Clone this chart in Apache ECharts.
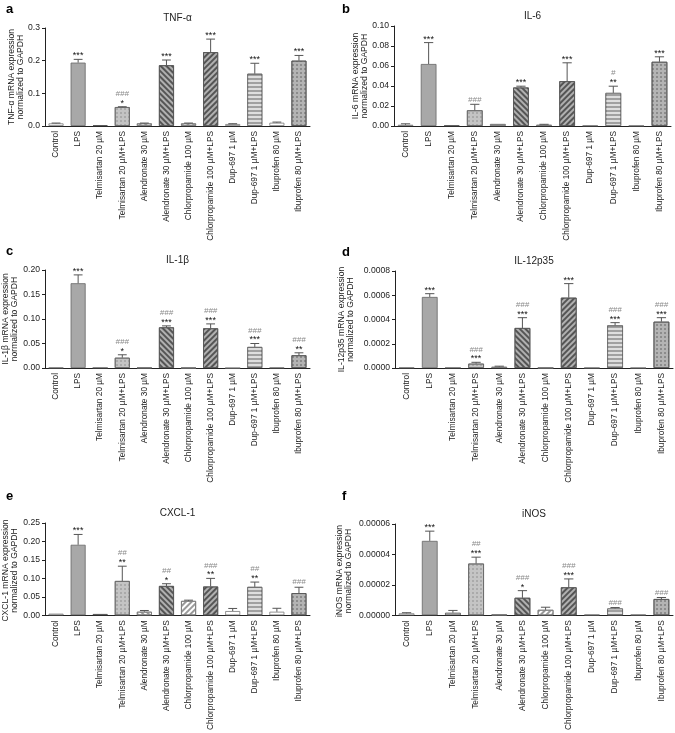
<!DOCTYPE html>
<html>
<head>
<meta charset="utf-8">
<script src="https://cdn.jsdelivr.net/npm/echarts@6/dist/echarts.min.js"></script>
<style>
  html, body { margin: 0; padding: 0; background: #fff; }
  #chart { width: 675px; height: 733px; }
</style>
</head>
<body>
<div id="chart"></div>
<script>
var groups = ['Control', 'LPS', 'Telmisartan 20 µM', 'Telmisartan 20 µM+LPS', 'Alendronate 30 µM',
  'Alendronate 30 µM+LPS', 'Chlorpropamide 100 µM', 'Chlorpropamide 100 µM+LPS', 'Dup-697 1 µM',
  'Dup-697 1 µM+LPS', 'Ibuprofen 80 µM', 'Ibuprofen 80 µM+LPS']

// a - TNF-alpha
var tnfMean = [0.008, 0.194, 0.002, 0.058, 0.008, 0.186, 0.008, 0.226, 0.006, 0.160, 0.010, 0.200]
var tnfErr = [0.001, 0.010, 0, 0.001, 0.001, 0.016, 0.001, 0.040, 0.001, 0.032, 0.002, 0.016]
var tnfStar = ['', '***', '', '*', '', '***', '', '***', '', '***', '', '***']
var tnfHash = ['', '', '', '###', '', '', '', '', '', '', '', '']

// b - IL-6
var il6Mean = [0.0012, 0.062, 0.0005, 0.0157, 0.002, 0.0385, 0.0012, 0.0448, 0.0006, 0.0331, 0.0005, 0.0642]
var il6Err = [0.001, 0.0214, 0, 0.006, 0, 0.0013, 0.0005, 0.0184, 0, 0.0067, 0, 0.005]
var il6Star = ['', '***', '', '', '', '***', '', '***', '', '**', '', '***']
var il6Hash = ['', '', '', '###', '', '', '', '', '', '#', '', '']

// c - IL-1beta
var il1bMean = [0.001, 0.173, 0, 0.021, 0.001, 0.083, 0.0005, 0.081, 0, 0.043, 0.001, 0.026]
var il1bErr = [0, 0.017, 0, 0.006, 0, 0.003, 0, 0.009, 0, 0.007, 0, 0.005]
var il1bStar = ['', '***', '', '*', '', '***', '', '***', '', '***', '', '**']
var il1bHash = ['', '', '', '###', '', '###', '', '###', '', '###', '', '###']

// d - IL-12p35
var il12Mean = [0.000005, 0.000586, 0, 0.000036, 0.00001, 0.00033, 0.000003, 0.00058, 0.000003, 0.000352, 0.000002, 0.000382]
var il12Err = [0, 0.000027, 0, 0.000011, 0.000005, 0.000085, 0, 0.000116, 0, 0.000022, 0, 0.000033]
var il12Star = ['', '***', '', '***', '', '***', '', '***', '', '***', '', '***']
var il12Hash = ['', '', '', '###', '', '###', '', '', '', '###', '', '###']

// e - CXCL-1
var cxclMean = [0.0044, 0.191, 0.0035, 0.093, 0.0097, 0.0795, 0.039, 0.078, 0.0115, 0.077, 0.0097, 0.060]
var cxclErr = [0, 0.028, 0, 0.040, 0.0033, 0.006, 0.002, 0.022, 0.007, 0.013, 0.0093, 0.016]
var cxclStar = ['', '***', '', '**', '', '*', '', '**', '', '**', '', '']
var cxclHash = ['', '', '', '##', '', '##', '', '###', '', '##', '', '###']

// f - iNOS
var inosMean = [0.0000013, 0.0000489, 0.0000017, 0.000034, 0.0000006, 0.0000115, 0.0000036, 0.0000184, 0.0000006, 0.0000045, 0.0000006, 0.0000107]
var inosErr = [0.0000004, 0.0000064, 0.0000015, 0.0000042, 0, 0.0000047, 0.0000017, 0.0000055, 0, 0.0000006, 0, 0.000001]
var inosStar = ['', '***', '', '***', '', '*', '', '***', '', '', '', '']
var inosHash = ['', '', '', '##', '', '###', '', '###', '', '###', '', '###']

var panels = [
  { letter: 'a', title: 'TNF-α', yName: 'TNF-α mRNA expression\nnormalized to GAPDH', max: 0.3, step: 0.1, dec: 1,
    mean: tnfMean, err: tnfErr, star: tnfStar, hash: tnfHash },
  { letter: 'b', title: 'IL-6', yName: 'IL-6 mRNA expression\nnormalized to GAPDH', max: 0.1, step: 0.02, dec: 2,
    mean: il6Mean, err: il6Err, star: il6Star, hash: il6Hash },
  { letter: 'c', title: 'IL-1β', yName: 'IL-1β mRNA expression\nnormalized to GAPDH', max: 0.2, step: 0.05, dec: 2,
    mean: il1bMean, err: il1bErr, star: il1bStar, hash: il1bHash },
  { letter: 'd', title: 'IL-12p35', yName: 'IL-12p35 mRNA expression\nnormalized to GAPDH', max: 0.0008, step: 0.0002, dec: 4,
    mean: il12Mean, err: il12Err, star: il12Star, hash: il12Hash },
  { letter: 'e', title: 'CXCL-1', yName: 'CXCL-1 mRNA expression\nnormalized to GAPDH', max: 0.25, step: 0.05, dec: 2,
    mean: cxclMean, err: cxclErr, star: cxclStar, hash: cxclHash },
  { letter: 'f', title: 'iNOS', yName: 'iNOS mRNA expression\nnormalized to GAPDH', max: 0.00006, step: 0.00002, dec: 5,
    mean: inosMean, err: inosErr, star: inosStar, hash: inosHash }
]

// layout of the six panels (px)
var boxes = [
  { left: 45, top: 28, width: 265, height: 98, letterX: 6, letterY: 10, nameX: 16 },
  { left: 394, top: 26, width: 277, height: 100, letterX: 342, letterY: 10, nameX: 360 },
  { left: 45, top: 270, width: 265, height: 98, letterX: 6, letterY: 252, nameX: 10 },
  { left: 395, top: 271, width: 278, height: 97, letterX: 342, letterY: 253, nameX: 346 },
  { left: 45, top: 523, width: 265, height: 95, letterX: 6, letterY: 497, nameX: 10 },
  { left: 395, top: 524, width: 278, height: 94, letterX: 342, letterY: 497, nameX: 344 }
]

var FONT = 'Liberation Sans, Arial, sans-serif'

var diag = function (c, r) {
  return { symbol: 'rect', symbolSize: 1, dashArrayX: [1, 0], dashArrayY: [1.2, 1.8], rotation: r, color: c }
}
var dots = function (c, s) {
  return { symbol: 'circle', symbolSize: 0.8, dashArrayX: [s, s], dashArrayY: [s, s], color: c }
}
var barStyles = [
  { color: '#ffffff', borderColor: '#777' },
  { color: '#a8a8a8', borderColor: '#666' },
  { color: '#dddddd', borderColor: '#444' },
  { color: '#c4c4c4', borderColor: '#666', decal: dots('#8a8a8a', 1.5) },
  { color: '#ffffff', borderColor: '#777', decal: diag('#9a9a9a', Math.PI / 4) },
  { color: '#b0b0b0', borderColor: '#555', decal: diag('#555', Math.PI / 4) },
  { color: '#ffffff', borderColor: '#777', decal: diag('#9a9a9a', -Math.PI / 4) },
  { color: '#b0b0b0', borderColor: '#555', decal: diag('#555', -Math.PI / 4) },
  { color: '#ffffff', borderColor: '#777' },
  { color: '#a0a0a0', borderColor: '#666', decal: { symbol: 'rect', symbolSize: 1, dashArrayX: [1, 0], dashArrayY: [1.5, 2], color: '#dedede' } },
  { color: '#ffffff', borderColor: '#777' },
  { color: '#b4b4b4', borderColor: '#555', decal: dots('#5a5a5a', 1.3) }
]

function errorItem (p) {
  return function (params, api) {
    var i = params.dataIndex
    var v = p.mean[i]
    var e = p.err[i]
    var base = api.coord([i, v])
    var top = api.coord([i, v + e])
    var half = api.size([1, 0])[0] * 0.2
    var kids = []
    if (e > 0) {
      kids.push({ type: 'line', shape: { x1: top[0], y1: base[1], x2: top[0], y2: top[1] }, style: { stroke: '#555', lineWidth: 1 } })
      kids.push({ type: 'line', shape: { x1: top[0] - half, y1: top[1], x2: top[0] + half, y2: top[1] }, style: { stroke: '#555', lineWidth: 1 } })
    }
    var y = top[1] - 1
    if (p.star[i]) {
      kids.push({ type: 'text', style: { text: p.star[i], x: top[0], y: y + 2, align: 'center', verticalAlign: 'bottom', font: '9px ' + FONT, fill: '#111' } })
      y -= 8
    }
    if (p.hash[i]) {
      kids.push({ type: 'text', style: { text: p.hash[i], x: top[0], y: y, align: 'center', verticalAlign: 'bottom', font: 'italic 8px ' + FONT, fill: '#8a8a8a' } })
    }
    return { type: 'group', children: kids }
  }
}

var grid = [], xAxis = [], yAxis = [], series = [], graphic = []
panels.forEach(function (p, k) {
  var b = boxes[k]
  grid.push({ left: b.left, top: b.top, width: b.width, height: b.height })
  xAxis.push({
    type: 'category', gridIndex: k, data: groups,
    axisLine: { lineStyle: { color: '#222', width: 1 } },
    axisTick: { alignWithLabel: true, length: 3, lineStyle: { color: '#222' } },
    axisLabel: { rotate: 90, interval: 0, fontSize: 8.3, fontFamily: FONT, color: '#222', margin: 5 }
  })
  yAxis.push({
    type: 'value', gridIndex: k, min: 0, max: p.max, interval: p.step,
    axisLine: { show: true, lineStyle: { color: '#222', width: 1 } },
    axisTick: { show: true, length: 3, lineStyle: { color: '#222' } },
    splitLine: { show: false },
    axisLabel: { fontSize: 8.6, fontFamily: FONT, color: '#222', margin: 5,
      formatter: function (v) { return v.toFixed(p.dec) } }
  })
  series.push({
    type: 'bar', xAxisIndex: k, yAxisIndex: k, barWidth: '68%',
    data: p.mean.map(function (v, i) {
      return { value: v, itemStyle: Object.assign({ borderWidth: 0.8 }, barStyles[i]) }
    })
  })
  series.push({
    type: 'custom', xAxisIndex: k, yAxisIndex: k, z: 5,
    renderItem: errorItem(p),
    data: p.mean.map(function (v, i) { return [i, v, p.err[i]] })
  })
  graphic.push({ type: 'text', left: b.letterX, top: b.letterY - 7,
    style: { text: p.letter, font: 'bold 13px ' + FONT, fill: '#000' } })
  graphic.push({ type: 'text', x: b.left + b.width / 2, y: b.top - 10,
    style: { text: p.title, font: '10px ' + FONT, fill: '#222', align: 'center', verticalAlign: 'middle' } })
  graphic.push({ type: 'text', x: b.nameX, y: b.top + b.height / 2, rotation: Math.PI / 2,
    style: { text: p.yName, font: '8.6px ' + FONT, lineHeight: 9.5, fill: '#222', align: 'center', verticalAlign: 'middle' } })
})

var myChart = echarts.init(document.getElementById('chart'))
myChart.setOption({
  animation: false,
  backgroundColor: '#fff',
  grid: grid,
  xAxis: xAxis,
  yAxis: yAxis,
  series: series,
  graphic: graphic
})
</script>
</body>
</html>
